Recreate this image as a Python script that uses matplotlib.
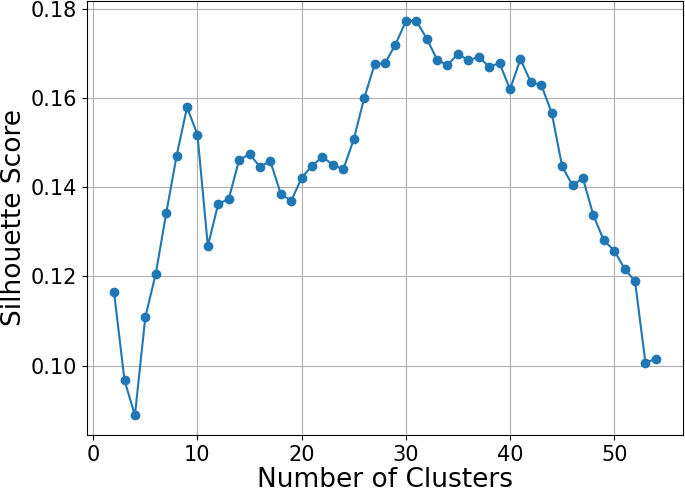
import matplotlib
matplotlib.use('Agg')
from matplotlib import pyplot as plt

# number of clusters tried and the silhouette score for each
clusters = list(range(2, 55))
scores = [0.1164, 0.0967, 0.0889, 0.1109, 0.1206, 0.1341, 0.1470, 0.1579,
          0.1518, 0.1268, 0.1363, 0.1373, 0.1461, 0.1474, 0.1446, 0.1458,
          0.1385, 0.1369, 0.1421, 0.1448, 0.1468, 0.1450, 0.1440, 0.1507,
          0.1599, 0.1675, 0.1678, 0.1719, 0.1772, 0.1773, 0.1733, 0.1686,
          0.1673, 0.1699, 0.1684, 0.1692, 0.1670, 0.1678, 0.1619, 0.1687,
          0.1635, 0.1629, 0.1567, 0.1447, 0.1404, 0.1420, 0.1337, 0.1281,
          0.1258, 0.1217, 0.1189, 0.1007, 0.1015]

fig = plt.figure(figsize=(6.85, 4.92), dpi=100)
ax = fig.add_axes([0.127, 0.116, 0.870, 0.882])
ax.plot(clusters, scores, marker='o', color='#1f77b4')
ax.set_xlabel('Number of Clusters', fontsize=19, labelpad=2)
ax.set_ylabel('Silhouette Score', fontsize=19, labelpad=3)
ax.tick_params(labelsize=15)
ax.grid(True)

plt.savefig('out.png', dpi=100)
